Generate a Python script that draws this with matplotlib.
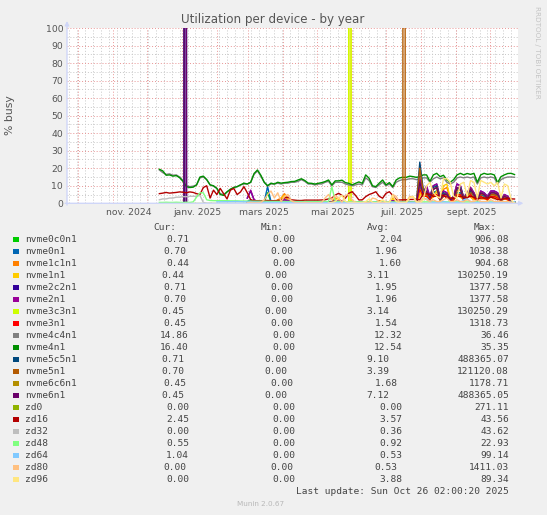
import numpy as np
import matplotlib
matplotlib.use("Agg")
import matplotlib.pyplot as plt
from matplotlib.patches import Rectangle

W, H = 547, 515

# 400 days window ending at the last update
VIEW_START = np.datetime64("2024-09-21T02:00")
VIEW_END = np.datetime64("2025-10-26T02:00")

NAMES = ["nvme0c0n1", "nvme0n1", "nvme1c1n1", "nvme1n1", "nvme2c2n1", "nvme2n1",
         "nvme3c3n1", "nvme3n1", "nvme4c4n1", "nvme4n1", "nvme5c5n1", "nvme5n1",
         "nvme6c6n1", "nvme6n1", "zd0", "zd16", "zd32", "zd48", "zd64", "zd80", "zd96"]
COLORS = ["#00CC00", "#0066B3", "#FF8000", "#FFCC00", "#330099", "#990099",
          "#CCFF00", "#FF0000", "#808080", "#008F00", "#00487D", "#B35A00",
          "#B38F00", "#6B006B", "#8FB300", "#B30000", "#BEBEBE", "#80FF80",
          "#80C9FF", "#FFC080", "#FFE680"]
CUR = [0.71, 0.70, 0.44, 0.44, 0.71, 0.70, 0.45, 0.45, 14.86, 16.40, 0.71,
       0.70, 0.45, 0.45, 0.00, 2.45, 0.00, 0.55, 1.04, 0.00, 0.00]
MIN = [0.00] * 21
AVG = [2.04, 1.96, 1.60, 3.11, 1.95, 1.96, 3.14, 1.54, 12.32, 12.54, 9.10,
       3.39, 1.68, 7.12, 0.00, 3.57, 0.36, 0.92, 0.53, 0.53, 3.88]
MAX = [906.08, 1038.38, 904.68, 130250.19, 1377.58, 1377.58, 130250.29, 1318.73,
       36.46, 35.35, 488365.07, 121120.08, 1178.71, 488365.05, 271.11, 43.56,
       43.62, 22.93, 99.14, 1411.03, 89.34]

# ---- sampled values (% busy), read off the picture ----
# 3-day samples from 2024-12-12
NVME4N1 = [19.4, 18.5, 16.0, 16.2, 15.5, 15.8, 14.6, 12.5, 9.5, 9.0,
           9.2, 10.5, 15.0, 15.5, 13.5, 10.5, 10.0, 8.5, 5.0, 4.5,
           6.5, 8.0, 9.0, 9.5, 10.5, 11.5, 11.0, 12.0, 17.0, 19.0,
           16.0, 12.0, 10.0, 11.5, 11.0, 12.0, 11.5, 11.8, 12.0, 12.4,
           12.5, 13.3, 14.0, 13.0, 11.5, 11.4, 11.0, 11.4, 11.8, 12.4,
           13.3, 10.5, 12.8, 12.8, 13.2, 11.8, 11.4, 10.5, 11.4, 12.2,
           11.4, 16.2, 14.3, 10.0, 9.5, 11.5, 13.3, 10.5, 11.8, 9.5,
           13.3, 14.5, 14.8, 14.8, 15.5, 15.2, 14.8, 15.2, 16.2, 16.2,
           12.5, 16.2, 17.1, 15.2, 16.0, 13.3, 12.0, 13.5, 16.2, 17.1,
           16.2, 17.0, 16.5, 17.1, 12.0, 16.2, 17.1, 16.5, 16.8, 16.2,
           11.8, 15.2, 16.2, 17.0, 17.1, 16.4]
NVME4C4N1 = [19.0, 17.5, 16.5, 16.8, 16.0, 16.2, 15.0, 13.0, 10.0, 9.5,
             9.8, 10.5, 14.5, 15.0, 13.5, 10.5, 9.8, 8.5, 5.5, 5.0,
             6.5, 8.0, 9.0, 9.5, 10.5, 11.0, 11.0, 12.0, 16.5, 18.5,
             15.5, 12.0, 10.0, 11.0, 11.0, 11.5, 11.0, 11.5, 11.5, 12.0,
             12.0, 12.5, 13.5, 12.5, 11.0, 11.0, 10.5, 11.0, 11.0, 12.0,
             12.5, 10.0, 12.0, 12.0, 12.0, 11.0, 10.5, 10.0, 10.5, 11.0,
             10.5, 14.5, 13.0, 9.5, 9.0, 10.5, 12.0, 10.0, 11.0, 9.0,
             12.0, 13.0, 13.5, 13.5, 14.0, 14.0, 13.5, 14.0, 14.5, 14.5,
             12.0, 14.0, 15.0, 14.0, 14.5, 12.0, 11.0, 12.0, 14.5, 15.0,
             14.5, 15.0, 14.5, 15.0, 11.0, 14.5, 15.0, 14.5, 15.0, 14.5,
             11.0, 13.5, 14.5, 15.0, 15.0, 14.86]
ZD16 = [5.5, 5.8, 6.2, 5.8, 6.0, 6.2, 6.5, 6.3, 6.0, 6.5,
        6.2, 5.5, 5.0, 9.0, 10.0, 3.0, 7.5, 5.0, 8.5, 5.5,
        2.5, 7.5, 8.5, 5.0, 6.5, 9.5, 6.0, 2.0, 1.5, 1.5,
        1.5, 1.5, 1.6, 1.5, 1.5, 1.6, 2.0, 3.0, 3.5, 2.0,
        1.8, 1.6, 1.6, 1.8, 1.8, 1.8, 1.8, 1.8, 1.9, 2.0,
        2.5, 3.0, 4.7, 5.7, 4.5, 2.9, 5.7, 6.6, 4.5, 1.9,
        2.0, 3.8, 5.0, 5.7, 6.6, 4.0, 2.9, 5.7, 6.6, 4.5,
        2.0, 1.9, 2.0, 2.0, 2.2, 2.2, 2.3, 2.0, 5.5, 5.5,
        5.0, 4.0, 4.0, 4.5, 4.5, 3.0, 3.0, 3.0, 4.0, 4.0,
        3.5, 3.5, 4.0, 3.5, 2.5, 3.0, 3.0, 3.0, 3.5, 3.0,
        2.0, 2.5, 2.5, 3.0, 2.5, 2.45]
ZD48 = [0.5, 0.5, 0.6, 0.5, 0.5, 0.6, 0.5, 0.5, 0.6, 0.5,
        0.8, 3.5, 6.0, 6.0, 2.0, 1.6, 1.5, 1.5, 1.5, 1.5,
        1.5, 1.4, 1.4, 1.4, 1.3, 1.3, 1.3, 1.2, 1.2, 1.2,
        1.2, 1.2, 1.1, 1.1, 1.1, 1.1, 1.0, 1.0, 1.0, 1.0,
        1.0, 1.0, 1.0, 1.0, 1.0, 1.0, 1.0, 1.0, 1.0, 1.0,
        1.0, 9.5, 1.0, 0.9, 0.9, 0.9, 0.9, 0.9, 0.9, 0.9,
        0.9, 0.9, 0.9, 0.9, 0.9, 0.9, 0.9, 0.9, 0.9, 0.8,
        0.8, 0.8, 0.8, 0.8, 0.8, 0.8, 0.8, 0.8, 0.8, 0.8,
        0.8, 0.8, 0.8, 0.8, 0.8, 0.8, 0.8, 0.8, 0.8, 0.8,
        0.8, 0.8, 0.8, 0.8, 0.8, 0.8, 0.8, 0.8, 0.8, 0.7,
        0.7, 0.7, 0.6, 0.6, 0.6, 0.55]
ZD32 = [2.0, 2.5, 2.5, 3.0, 3.0, 3.5, 3.5, 3.8, 3.8, 4.0, 4.0, 4.0, 4.5, 0.5, 0.0, 0.0]
ZD32_TAIL = [0.0, 0.0, 0.0]
ZD0 = [0.0, 0.0, 0.0, 0.0]
ZD64_EARLY = [0.8, 1.0, 0.6, 0.5, 0.5, 0.4, 0.5, 0.4, 0.5, 0.5, 0.5]
ZD64 = [0.5, 3.0, 2.5, 1.0, 0.5, 0.5, 0.5, 1.0, 0.5, 0.5,
        0.5, 0.5, 0.5, 2.0, 2.5, 1.0, 0.5, 0.5, 0.5, 0.5,
        0.5, 0.5, 0.5, 0.5, 0.5, 0.5, 0.5, 0.6, 1.04]
ZD80 = [0.3, 0.5, 0.3, 0.3, 0.5, 2.0, 5.0, 7.0, 3.0, 6.0,
        1.0, 4.0, 5.0, 1.5, 0.5, 0.3, 0.3, 0.5, 0.3, 0.3,
        0.3, 0.3, 0.5, 3.0, 5.0, 2.0, 4.5, 3.0, 0.5, 4.5,
        5.0, 2.0, 0.5, 0.3, 0.5, 0.5, 0.5, 3.0, 2.5, 0.5,
        0.5, 0.5, 0.5, 5.0, 4.0, 0.5, 0.5, 0.5, 4.0, 3.5,
        0.5, 1.0, 3.0, 2.0, 1.0, 2.0, 1.0, 1.0, 2.0, 3.0,
        1.0, 1.0, 2.0, 1.0, 1.0, 2.0, 1.0, 1.0, 2.0, 1.0,
        1.0, 1.0, 2.0, 1.0, 1.0, 1.0, 1.0, 1.0, 0.5, 0.0]
ZD96 = [0.3, 0.5, 1.0, 3.0, 4.5, 1.0, 0.5, 0.5, 0.5, 0.3,
        0.3, 1.0, 2.5, 0.5, 0.3, 0.5, 2.0, 0.5, 0.5, 4.5,
        1.0, 0.3, 0.3, 0.5, 3.0, 4.0, 1.0, 0.0, 2.0, 10.0,
        12.0, 6.0, 4.0, 3.0, 14.0, 14.0, 12.0, 4.0, 3.0, 11.0,
        12.0, 4.0, 13.0, 12.0, 3.0, 13.0, 12.0, 11.0, 12.0, 10.0,
        12.0, 3.0, 11.0, 10.0, 2.0, 0.0]

NVME0C0N1 = [0.8, 1.5, 0.6, 0.4, 0.4, 0.8, 6.0, 0.8, 0.4, 0.3,
             0.5, 0.8, 0.6, 0.3, 0.3, 0.3, 0.3, 0.3, 0.3, 0.3,
             0.3, 0.3, 0.3, 0.3, 0.4, 0.5, 0.8, 0.6, 0.6, 0.4,
             0.3, 0.3, 0.4, 0.3, 0.3, 0.4, 0.5, 0.3, 0.4, 0.6,
             0.5, 0.4, 0.3, 0.8, 0.4, 0.3, 0.3, 0.3, 0.4, 0.3,
             0.3, 9.0, 4.0, 5.0, 2.0, 6.0, 7.0, 2.0, 4.0, 4.0,
             1.5, 2.0, 6.0, 6.0, 2.0, 4.0, 6.0, 4.0, 1.5, 5.0,
             4.0, 2.0, 5.0, 5.0, 4.0, 1.5, 3.0, 2.5, 1.0, 0.71]
NVME0N1 = [1.0, 2.0, 0.8, 0.5, 0.5, 1.0, 9.5, 1.0, 0.5, 0.4,
           0.6, 1.0, 0.8, 0.4, 0.4, 0.4, 0.4, 0.4, 0.4, 0.4,
           0.4, 0.4, 0.4, 0.4, 0.5, 0.6, 1.0, 0.8, 0.8, 0.5,
           0.4, 0.4, 0.5, 0.4, 0.4, 0.5, 0.6, 0.4, 0.5, 0.8,
           0.6, 0.5, 0.4, 1.0, 0.5, 0.4, 0.4, 0.4, 0.5, 0.4,
           0.4, 10.0, 4.0, 5.0, 2.0, 6.0, 7.0, 2.0, 4.0, 4.0,
           1.5, 2.0, 6.0, 6.0, 2.0, 4.0, 6.0, 4.0, 1.5, 5.0,
           4.0, 2.0, 5.0, 5.0, 4.0, 1.5, 3.0, 2.5, 1.0, 0.70]
NVME1C1N1 = [0.5, 1.0, 0.5, 0.5, 0.5, 0.8, 1.0, 0.5, 0.5, 2.0,
             3.0, 5.5, 2.0, 0.5, 0.4, 0.4, 0.4, 0.5, 0.4, 0.4,
             0.4, 0.4, 0.4, 0.5, 0.5, 1.0, 3.0, 2.5, 1.0, 0.5,
             0.5, 0.5, 1.0, 0.5, 0.5, 0.5, 1.0, 0.5, 0.5, 1.5,
             1.0, 0.5, 0.5, 3.0, 1.0, 0.5, 0.5, 0.5, 0.8, 0.5,
             0.5, 5.0, 7.0, 4.0, 2.5, 3.5, 5.0, 2.0, 8.0, 9.0,
             2.5, 2.0, 4.5, 3.5, 2.0, 5.0, 3.5, 2.0, 4.5, 2.5,
             2.5, 2.0, 3.5, 2.5, 3.5, 2.0, 2.5, 2.0, 1.0, 0.44]
NVME1N1 = [0.4, 0.8, 0.4, 0.4, 0.4, 0.6, 0.8, 0.4, 0.4, 1.5,
           2.5, 4.5, 1.5, 0.4, 0.3, 0.3, 0.3, 0.4, 0.3, 0.3,
           0.3, 0.3, 0.3, 0.4, 0.4, 0.8, 2.5, 2.0, 0.8, 0.4,
           0.4, 0.4, 0.8, 0.4, 0.4, 0.4, 0.8, 0.4, 0.4, 1.2,
           0.8, 0.4, 0.4, 2.5, 0.8, 0.4, 0.4, 0.4, 0.6, 0.4,
           0.4, 4.0, 9.0, 6.0, 3.0, 4.0, 7.0, 2.0, 10.0, 11.0,
           3.0, 2.0, 5.0, 4.0, 2.0, 6.0, 4.0, 2.0, 5.0, 3.0,
           3.0, 2.0, 4.0, 3.0, 4.0, 2.0, 3.0, 2.0, 1.0, 0.44]
NVME2C2N1 = [3.0, 7.0, 2.0, 1.0, 0.5, 1.0, 1.5, 0.6, 0.5, 0.5,
             0.8, 2.0, 1.5, 0.5, 0.5, 0.4, 0.4, 0.5, 0.4, 0.4,
             0.5, 0.4, 0.4, 0.5, 0.6, 0.8, 1.5, 1.0, 1.2, 0.6,
             0.5, 0.5, 0.6, 0.5, 0.5, 0.6, 0.8, 0.5, 0.6, 1.0,
             0.8, 0.6, 0.5, 1.5, 0.6, 0.5, 0.5, 0.5, 0.6, 0.5,
             0.5, 14.0, 6.0, 9.0, 4.0, 10.0, 11.0, 3.0, 7.0, 6.0,
             2.0, 4.0, 11.0, 10.0, 3.0, 6.0, 9.0, 6.0, 2.0, 7.0,
             6.0, 4.0, 7.0, 7.0, 6.0, 2.0, 5.0, 4.0, 1.0, 0.71]
NVME2N1 = [3.0, 7.5, 2.0, 1.0, 0.5, 1.0, 1.5, 0.6, 0.5, 0.5,
           0.8, 2.0, 1.5, 0.5, 0.5, 0.4, 0.4, 0.5, 0.4, 0.4,
           0.5, 0.4, 0.4, 0.5, 0.6, 0.8, 1.5, 1.0, 1.2, 0.6,
           0.5, 0.5, 0.6, 0.5, 0.5, 0.6, 0.8, 0.5, 0.6, 1.0,
           0.8, 0.6, 0.5, 1.5, 0.6, 0.5, 0.5, 0.5, 0.6, 0.5,
           0.5, 15.0, 6.0, 10.0, 4.0, 10.0, 11.0, 3.0, 7.0, 6.0,
           2.0, 4.0, 11.0, 10.0, 3.0, 6.0, 9.0, 6.0, 2.0, 7.0,
           6.0, 4.0, 7.0, 7.0, 6.0, 2.0, 5.0, 4.0, 1.0, 0.70]
NVME3C3N1 = [0.3, 0.5, 0.3, 0.3, 0.3, 0.4, 0.5, 0.3, 0.3, 0.6,
             0.8, 1.0, 0.6, 0.3, 0.3, 0.3, 0.3, 0.3, 0.3, 0.3,
             0.3, 0.3, 0.3, 0.3, 0.3, 0.5, 0.8, 0.6, 0.5, 0.3,
             0.4, 0.4, 0.5, 0.3, 0.3, 0.3, 0.5, 0.3, 0.3, 0.6,
             0.5, 0.3, 0.3, 0.8, 0.5, 0.3, 0.3, 0.3, 0.4, 0.3,
             0.3, 8.0, 4.0, 4.0, 2.0, 5.0, 5.0, 2.0, 4.0, 4.0,
             1.5, 2.0, 5.0, 5.0, 2.0, 3.0, 5.0, 3.0, 1.5, 4.0,
             3.0, 2.0, 4.0, 4.0, 3.0, 1.5, 3.0, 2.0, 0.8, 0.45]
NVME3N1 = [0.3, 0.5, 0.3, 0.3, 0.3, 0.4, 0.5, 0.3, 0.3, 0.6,
           0.8, 1.0, 0.6, 0.3, 0.3, 0.3, 0.3, 0.3, 0.3, 0.3,
           0.3, 0.3, 0.3, 0.3, 0.3, 0.5, 0.8, 0.6, 0.5, 0.3,
           0.4, 0.4, 0.5, 0.3, 0.3, 0.3, 0.5, 0.3, 0.3, 0.6,
           0.5, 0.3, 0.3, 0.8, 0.5, 0.3, 0.3, 0.3, 0.4, 0.3,
           0.3, 8.0, 4.0, 4.0, 2.0, 5.0, 5.0, 2.0, 4.0, 4.0,
           1.5, 2.0, 5.0, 5.0, 2.0, 3.0, 5.0, 3.0, 1.5, 4.0,
           3.0, 2.0, 4.0, 4.0, 3.0, 1.5, 3.0, 2.0, 0.8, 0.45]
NVME5C5N1 = [0.4, 0.6, 0.4, 0.3, 0.3, 0.5, 0.8, 0.5, 0.3, 0.3,
             0.4, 0.6, 0.5, 0.3, 0.3, 0.3, 0.3, 0.3, 0.3, 0.3,
             0.3, 0.3, 0.3, 0.3, 0.4, 0.5, 0.7, 0.5, 0.5, 0.3,
             0.4, 0.4, 0.4, 0.3, 0.3, 0.3, 0.5, 0.3, 0.4, 0.6,
             0.5, 0.4, 0.3, 0.7, 0.4, 0.3, 0.3, 0.3, 0.4, 0.3,
             0.3, 23.5, 8.0, 6.0, 3.0, 9.0, 10.0, 3.0, 6.0, 5.0,
             2.0, 3.0, 8.0, 9.0, 3.0, 5.0, 7.0, 5.0, 2.0, 6.0,
             5.0, 3.0, 6.0, 6.0, 5.0, 2.0, 4.0, 3.0, 1.0, 0.71]
NVME5N1 = [0.4, 0.6, 0.4, 0.3, 0.3, 0.5, 0.8, 0.5, 0.3, 0.3,
           0.4, 0.6, 0.5, 0.3, 0.3, 0.3, 0.3, 0.3, 0.3, 0.3,
           0.3, 0.3, 0.3, 0.3, 0.4, 0.5, 0.7, 0.5, 0.5, 0.3,
           0.4, 0.4, 0.4, 0.3, 0.3, 0.3, 0.5, 0.3, 0.4, 0.6,
           0.5, 0.4, 0.3, 0.7, 0.4, 0.3, 0.4, 0.4, 0.4, 0.3,
           0.3, 20.0, 7.0, 5.0, 3.0, 8.0, 9.0, 3.0, 5.0, 5.0,
           2.0, 3.0, 7.0, 8.0, 3.0, 5.0, 6.0, 5.0, 2.0, 5.0,
           5.0, 3.0, 5.0, 5.0, 4.0, 2.0, 4.0, 3.0, 1.0, 0.70]
NVME6C6N1 = [0.4, 0.5, 0.4, 0.3, 0.3, 0.4, 0.6, 0.4, 0.3, 0.3,
             0.4, 0.5, 0.4, 0.3, 0.3, 0.3, 0.3, 0.3, 0.3, 0.3,
             0.3, 0.3, 0.3, 0.3, 0.4, 0.4, 0.6, 0.4, 0.4, 0.3,
             0.4, 0.4, 0.4, 0.3, 0.3, 0.3, 0.4, 0.3, 0.4, 0.5,
             0.4, 0.4, 0.3, 0.6, 0.4, 0.3, 0.3, 0.3, 0.4, 0.3,
             0.3, 12.0, 5.0, 7.0, 3.0, 8.0, 9.0, 2.0, 5.0, 5.0,
             2.0, 3.0, 9.0, 8.0, 2.0, 5.0, 8.0, 5.0, 2.0, 6.0,
             5.0, 3.0, 6.0, 6.0, 5.0, 2.0, 4.0, 3.0, 1.0, 0.45]
NVME6N1 = [0.4, 0.5, 0.4, 0.3, 0.3, 0.4, 0.6, 0.4, 0.3, 0.3,
           0.4, 0.5, 0.4, 0.3, 0.3, 0.3, 0.3, 0.3, 0.3, 0.3,
           0.3, 0.3, 0.3, 0.3, 0.4, 0.4, 0.6, 0.4, 0.4, 0.3,
           0.4, 0.4, 0.4, 0.3, 0.3, 0.3, 0.4, 0.3, 0.4, 0.5,
           0.4, 0.4, 0.3, 0.6, 0.4, 0.3, 0.3, 0.3, 0.4, 0.3,
           0.3, 12.0, 5.0, 7.0, 3.0, 8.0, 9.0, 2.0, 5.0, 5.0,
           2.0, 3.0, 9.0, 8.0, 2.0, 5.0, 8.0, 5.0, 2.0, 6.0,
           5.0, 3.0, 6.0, 6.0, 5.0, 2.0, 4.0, 3.0, 1.0, 0.45]

# daily samples around the three big spikes
NVME2_SPIKE = [0.3, 1377.58, 0.3]          # from 2025-01-03
NVME5C5_SPIKE = [0.3, 488365.07, 0.3]      # from 2025-01-03
NVME6_SPIKE = [0.3, 488365.05, 0.3]        # from 2025-01-03
NVME1_SPIKE = [0.4, 130250.19, 0.4]        # from 2025-05-29
NVME3C3_SPIKE = [0.4, 130250.29, 0.4]      # from 2025-05-29
NVME5_SPIKE = [0.4, 121120.08, 0.4]        # from 2025-07-16

# (first date, days between points, values) for each drawn piece
SEGMENTS = {
    "nvme0c0n1": [("2025-02-28", 3, NVME0C0N1)],
    "nvme0n1": [("2025-02-28", 3, NVME0N1)],
    "nvme1c1n1": [("2025-02-28", 3, NVME1C1N1)],
    "nvme1n1": [("2025-02-28", 3, NVME1N1), ("2025-05-29", 1, NVME1_SPIKE)],
    "nvme2c2n1": [("2025-01-03", 1, NVME2_SPIKE), ("2025-02-28", 3, NVME2C2N1)],
    "nvme2n1": [("2025-01-03", 1, NVME2_SPIKE), ("2025-02-28", 3, NVME2N1)],
    "nvme3c3n1": [("2025-02-28", 3, NVME3C3N1), ("2025-05-29", 1, NVME3C3_SPIKE)],
    "nvme3n1": [("2025-02-28", 3, NVME3N1)],
    "nvme4c4n1": [("2024-12-12", 3, NVME4C4N1)],
    "nvme4n1": [("2024-12-12", 3, NVME4N1)],
    "nvme5c5n1": [("2025-01-03", 1, NVME5C5_SPIKE), ("2025-02-28", 3, NVME5C5N1)],
    "nvme5n1": [("2025-02-28", 3, NVME5N1), ("2025-07-16", 1, NVME5_SPIKE)],
    "nvme6c6n1": [("2025-02-28", 3, NVME6C6N1)],
    "nvme6n1": [("2025-01-03", 1, NVME6_SPIKE), ("2025-02-28", 3, NVME6N1)],
    "zd0": [("2024-12-12", 105, ZD0)],
    "zd16": [("2024-12-12", 3, ZD16)],
    "zd32": [("2024-12-12", 3, ZD32), ("2025-01-26", 135, ZD32_TAIL)],
    "zd48": [("2024-12-12", 3, ZD48)],
    "zd64": [("2025-02-01", 18, ZD64_EARLY), ("2025-07-31", 3, ZD64)],
    "zd80": [("2025-02-28", 3, ZD80)],
    "zd96": [("2025-05-11", 3, ZD96)],
}

XLABELS = ["nov. 2024", "janv. 2025", "mars 2025", "mai 2025", "juil. 2025", "sept. 2025"]
XLABEL_DATES = ["2024-11-15", "2025-01-15", "2025-03-15", "2025-05-15", "2025-07-15", "2025-09-15"]


def px(x, y):
    return x / W, 1 - y / H


def sample_dates(first, every, n):
    return np.datetime64(first) + np.arange(n) * np.timedelta64(every, "D")


TXT = "#555555"
fig = plt.figure(figsize=(W / 100, H / 100), dpi=100, facecolor="#F0F0F0")
ax = fig.add_axes([67 / W, 1 - 203.3 / H, 451 / W, 175.3 / H])
ax.set_facecolor("white")
for s in ax.spines.values():
    s.set_visible(False)

# grid: weekly (monday) minor, monthly major; 5 / 10 on y
mondays = np.arange(np.datetime64("2024-09-23"), VIEW_END, np.timedelta64(7, "D"))
months = np.arange(np.datetime64("2024-10"), np.datetime64("2025-11"), dtype="datetime64[M]").astype("datetime64[D]")
dots = (0, (1, 2))
ax.vlines(mondays, 0, 100, colors="#C8C8C8", linestyles=dots, lw=0.7, zorder=0)
ax.hlines(np.arange(5, 100, 10), VIEW_START, VIEW_END, colors="#C8C8C8", linestyles=dots, lw=0.7, zorder=0)
ax.vlines(months, 0, 100, colors="#E89494", linestyles=dots, lw=0.7, zorder=0.5)
ax.hlines(np.arange(10, 101, 10), VIEW_START, VIEW_END, colors="#E89494", linestyles=dots, lw=0.7, zorder=0.5)

for k, name in enumerate(NAMES):
    for first, every, vals in SEGMENTS[name]:
        ax.plot(sample_dates(first, every, len(vals)), vals, color=COLORS[k], lw=1.0,
                zorder=2 + k * 0.01)

ax.set_xlim(VIEW_START, VIEW_END)
ax.set_ylim(0, 100)
ax.set_yticks(np.arange(0, 101, 10))
ax.set_xticks(np.array(XLABEL_DATES, dtype="datetime64[D]"))
ax.set_xticklabels(XLABELS)
ax.tick_params(length=0, labelsize=6.7, labelcolor=TXT)
ax.tick_params(axis="y", pad=2.7)
ax.tick_params(axis="x", pad=3.5)

# axes with arrows
arrow = dict(arrowstyle="-|>", color="#CFD6F8", lw=1.0, mutation_scale=6, shrinkA=0, shrinkB=0)
ax.annotate("", xy=(1.012, 0), xytext=(-0.004, 0), xycoords="axes fraction", arrowprops=arrow, zorder=5)
ax.annotate("", xy=(0, 1.04), xytext=(0, -0.01), xycoords="axes fraction", arrowprops=arrow, zorder=5)

fig.text(*px(273, 19.5), "Utilization per device - by year", ha="center", va="center",
         fontsize=8.6, color=TXT)
fig.text(*px(10, 115), "% busy", rotation=90, ha="center", va="center", fontsize=7.8, color=TXT)
fig.text(*px(537, 52), "RRDTOOL / TOBI OETIKER", rotation=270, ha="center", va="center",
         fontsize=5.2, color="#C4C4C4")

# legend table
mono = dict(family="DejaVu Sans Mono", fontsize=6.8, color="#444444", va="center")
col_right = [189, 295.7, 402.3, 509]
shift = {7: (2.3, 2.3, 4.7), 9: (5.0, 8.3, 13.3)}
for label, xr in zip(["Cur:", "Min:", "Avg:", "Max:"], [176.7, 283.3, 390, 496.7]):
    fig.text(*px(xr, 227.7), label, ha="right", **mono)
for r, name in enumerate(NAMES):
    y = 239.3 + 12 * r
    fig.patches.append(Rectangle(px(13.3, y + 2.7), 5.4 / W, 5.4 / H, transform=fig.transFigure,
                                 facecolor=COLORS[r], edgecolor="none"))
    fig.text(*px(25, y), name, ha="left", **mono)
    smax = "%.2f" % MAX[r]
    dx = shift.get(len(smax), (0, 0, 0))
    for j, v in enumerate([CUR[r], MIN[r], AVG[r]]):
        fig.text(*px(col_right[j] - dx[j], y), "%.2f" % v, ha="right", **mono)
    fig.text(*px(col_right[3], y), smax, ha="right", **mono)

fig.text(*px(509, 491), "Last update: Sun Oct 26 02:00:20 2025", ha="right", **mono)
fig.text(*px(261, 504), "Munin 2.0.67", ha="center", va="center", fontsize=5.2, color="#B8B8B8")

fig.savefig("out.png", dpi=100, facecolor=fig.get_facecolor())
